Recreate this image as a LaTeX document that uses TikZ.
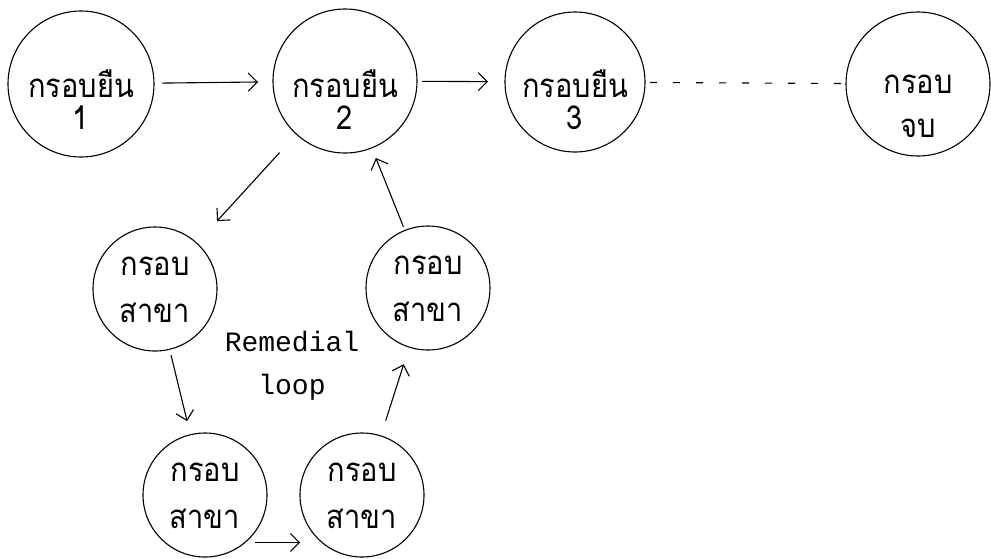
\documentclass[tikz,border=0pt]{standalone}
\usepackage{fontspec}
\newfontfamily\thaifont[Script=Thai,FakeStretch=0.88]{Loma}
\setmonofont{Liberation Mono}
\usetikzlibrary{arrows.meta}

\begin{document}
\begin{tikzpicture}[x=1pt,y=-1pt,inner sep=0pt,outer sep=0pt,line width=1.1pt,
>={Straight Barb[length=9pt,width=18pt]},
framenode/.style={draw,circle,minimum size=144pt},
branchnode/.style={draw,circle,minimum size=124pt},
thaitext/.style={font=\thaifont\fontsize{33}{32}\selectfont,align=center}]
\useasboundingbox (0,0) rectangle (991,558);

% main frames
\draw (81,84) node[framenode,minimum size=146pt] (f1) {};
\draw (345,81) node[framenode] (f2) {};
\draw (575,82) node[framenode,minimum size=140pt] (f3) {};
\draw (918,84) node[framenode] (fe) {};
\node[thaitext] (t1) at ([yshift=-16pt]f1) {กรอบยืน\\1};
\node[thaitext] (t2) at ([yshift=-19pt]f2) {กรอบยืน\\2};
\node[thaitext] (t3) at ([yshift=-18pt]f3) {กรอบยืน\\3};
\node[thaitext,font=\thaifont\fontsize{33}{44}\selectfont] (te) at ([yshift=-22pt]fe) {กรอบ\\จบ};

% branch frames
\draw (155,289) node[branchnode] (ba) {};
\draw (205,495) node[branchnode] (bb) {};
\draw (362,495) node[branchnode] (bc) {};
\draw (428,288) node[branchnode] (bd) {};
\foreach \b in {ba,bb,bc,bd}
  \node[thaitext,font=\thaifont\fontsize{33}{47}\selectfont] (t\b) at ([yshift=-1pt]\b) {กรอบ\\สาขา};

\node[font=\ttfamily\fontsize{28}{43}\selectfont,align=center] (rl) at (292,366) {Remedial\\loop};

\draw[->,shorten <=8pt,shorten >=15pt] (f1) -- (f2);
\draw[->,shorten <=5pt,shorten >=17pt] (f2) -- (f3);
\draw[dash pattern=on 7pt off 16pt,shorten <=5pt] (f3) -- (fe);
\draw[->,shorten <=25pt,shorten >=30pt] (f2) -- (ba);
\draw[->,shorten <=6pt,shorten >=14pt] (ba) -- (bb);
\draw[->,shorten <=10pt,shorten >=22pt] (bb.-50) -- (bc.-130);
\draw[->,shorten <=16pt,shorten >=18pt] (bc) -- (bd);
\draw[->,shorten <=4pt,shorten >=11pt] (bd) -- (f2);
\end{tikzpicture}
\end{document}
